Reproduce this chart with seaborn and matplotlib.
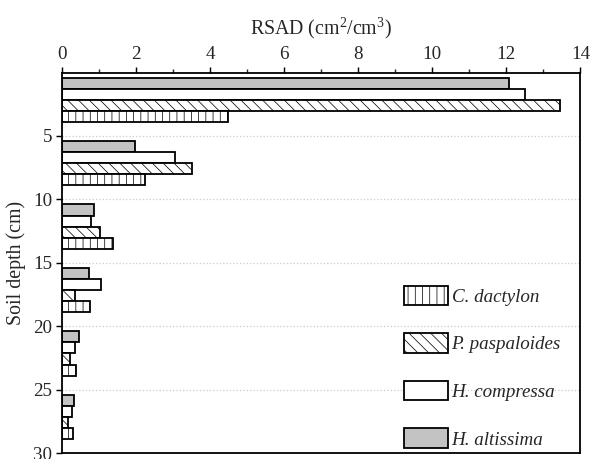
import matplotlib
matplotlib.use("Agg")
import matplotlib.pyplot as plt
import matplotlib.patches as mpatches
import numpy as np
import pandas as pd
import seaborn as sns

sns.set_theme(style="ticks")
plt.rcParams["font.family"] = ["Liberation Serif", "DejaVu Serif"]
plt.rcParams["mathtext.fontset"] = "custom"
plt.rcParams["mathtext.rm"] = "Liberation Serif"
plt.rcParams["hatch.linewidth"] = 0.4

# depth layer midpoints (cm)
depths = [2.5, 7.5, 12.5, 17.5, 22.5, 27.5]
species = ["H. altissima", "H. compressa", "P. paspaloides", "C. dactylon"]
h_altissima = [12.07, 1.96, 0.85, 0.73, 0.47, 0.32]
h_compressa = [12.50, 3.05, 0.79, 1.06, 0.34, 0.26]
p_paspaloides = [13.46, 3.50, 1.03, 0.35, 0.22, 0.16]
c_dactylon = [4.47, 2.24, 1.37, 0.76, 0.38, 0.29]

fills = {"H. altissima": "#c3c3c3", "H. compressa": "white",
         "P. paspaloides": "white", "C. dactylon": "white"}
hatches = {"H. altissima": "", "H. compressa": "",
           "P. paspaloides": "\\\\\\\\", "C. dactylon": "|||"}

df = pd.DataFrame({
    "depth": depths * 4,
    "RSAD": h_altissima + h_compressa + p_paspaloides + c_dactylon,
    "species": np.repeat(species, len(depths)),
})

fig = plt.figure(figsize=(591 / 130, 459 / 130), dpi=130)
ax = fig.add_axes([0.105, 0.013, 0.877, 0.829])

sns.barplot(data=df, x="RSAD", y="depth", hue="species", hue_order=species,
            orient="h", native_scale=True, width=0.7, palette=fills,
            edgecolor="black", linewidth=1.0, legend=False, ax=ax)

# bars sit slightly above each layer's midpoint in the original
for cont, sp in zip(ax.containers, species):
    for bar in cont:
        bar.set_hatch(hatches[sp])
        bar.set_y(bar.get_y() - 0.35)

ax.set_xlim(0, 14)
ax.set_ylim(30, 0)
ax.set_xticks(np.arange(0, 15, 2))
ax.set_xticks(np.arange(1, 14, 2), minor=True)
ax.set_yticks(np.arange(5, 31, 5))
ax.xaxis.tick_top()
ax.xaxis.set_label_position("top")
ax.tick_params(axis="both", which="major", labelsize=10.5, length=3.5, width=0.8,
               color="black", pad=2)
ax.tick_params(axis="x", which="minor", length=2, width=0.8, top=True, bottom=False)
ax.yaxis.grid(True, linestyle=":", color="#cccccc", linewidth=0.7)
for s in ax.spines.values():
    s.set_visible(True)
    s.set_color("black")
    s.set_linewidth(1.0)

ax.set_xlabel(r"RSAD (cm$^\mathrm{2}$/cm$^\mathrm{3}$)", fontsize=11, labelpad=6)
ax.set_ylabel("Soil depth (cm)", fontsize=11, labelpad=4)

handles = [mpatches.Patch(facecolor=fills[sp], edgecolor="black", hatch=hatches[sp],
                          linewidth=1.0, label=sp) for sp in species[::-1]]
ax.legend(handles=handles, loc="upper left", bbox_to_anchor=(0.66, 0.44),
          frameon=False, prop={"style": "italic", "size": 10.5},
          handlelength=2.3, handleheight=1.2, handletextpad=0.2,
          labelspacing=1.45, borderpad=0, borderaxespad=0)

fig.savefig("out.png", dpi=130)
